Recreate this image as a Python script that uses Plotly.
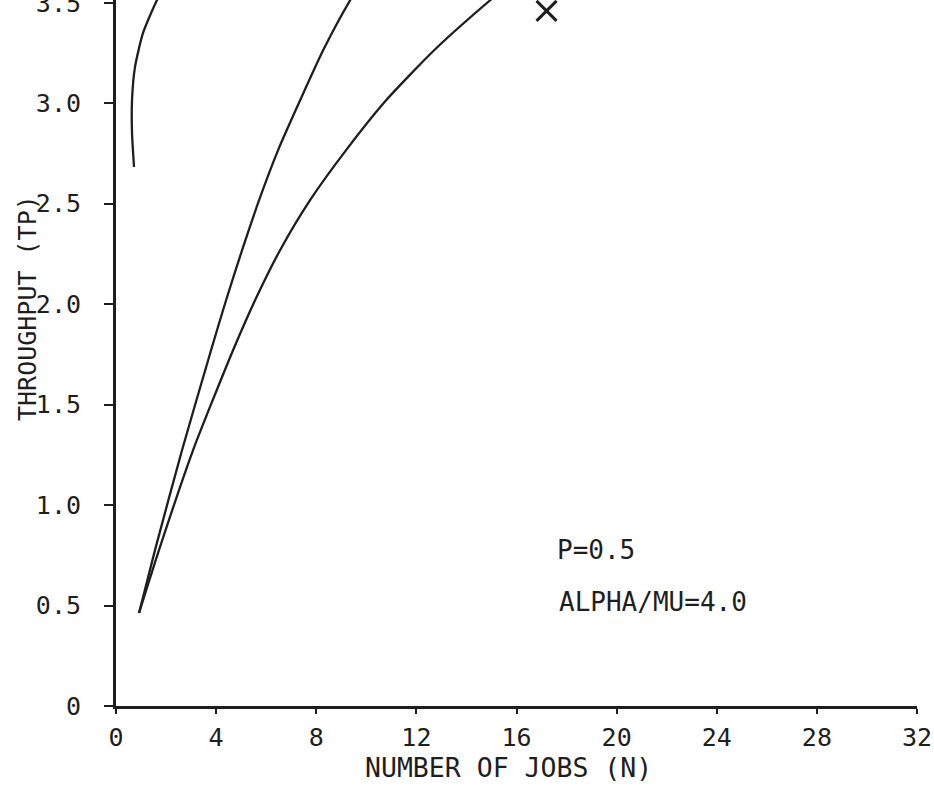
import plotly.graph_objects as go

# ---- data ----
curve_a_n = [0.72, 0.64, 0.64, 0.76, 1.08, 1.64, 2.05]
curve_a_tp = [2.683, 2.852, 3.016, 3.181, 3.350, 3.514, 3.60]

curve_b_n = [0.92, 1.56, 2.64, 3.80, 4.40, 5.04, 5.72, 6.48, 7.36, 8.28, 9.36, 9.80]
curve_b_tp = [0.463, 0.777, 1.274, 1.772, 2.021, 2.270, 2.519, 2.768, 3.016, 3.265, 3.514, 3.60]

curve_c_n = [0.92, 1.72, 3.08, 4.68, 5.56, 6.56, 7.76, 9.20, 10.80, 12.72, 14.96, 16.00]
curve_c_tp = [0.463, 0.777, 1.274, 1.772, 2.021, 2.270, 2.519, 2.768, 3.016, 3.265, 3.514, 3.62]

mark_n = [17.2]
mark_tp = [3.46]

x_ticks = [0, 4, 8, 12, 16, 20, 24, 28, 32]
y_ticks = [0, 0.5, 1.0, 1.5, 2.0, 2.5, 3.0, 3.5]
y_tick_text = ["0", "0.5", "1.0", "1.5", "2.0", "2.5", "3.0", "3.5"]

INK = "#1e1e1e"
FONT = "DejaVu Sans Mono"

fig = go.Figure()
for xs, ys in [(curve_a_n, curve_a_tp), (curve_b_n, curve_b_tp), (curve_c_n, curve_c_tp)]:
    fig.add_trace(go.Scatter(x=xs, y=ys, mode="lines",
                             line=dict(color=INK, width=2.3, shape="spline", smoothing=0.6),
                             showlegend=False, hoverinfo="skip"))
fig.add_trace(go.Scatter(x=mark_n, y=mark_tp, mode="markers",
                         marker=dict(symbol="x-thin", size=20, line=dict(color=INK, width=3)),
                         showlegend=False, cliponaxis=False))

fig.update_layout(
    width=934, height=791,
    margin=dict(l=116, r=17, t=0, b=85, autoexpand=False),
    paper_bgcolor="white", plot_bgcolor="white",
    font=dict(family=FONT, size=25, color=INK),
    xaxis=dict(range=[0, 32], tickvals=x_ticks, showgrid=False, zeroline=False,
               showline=True, linewidth=3, linecolor=INK, automargin=False,
               ticks="outside", ticklen=5, tickwidth=2, tickcolor=INK,
               ticklabelstandoff=2,
               tickfont=dict(family=FONT, size=25, color=INK)),
    yaxis=dict(range=[0, 3.514], tickvals=y_ticks, ticktext=y_tick_text,
               showgrid=False, zeroline=False, automargin=False,
               showline=True, linewidth=3, linecolor=INK,
               ticks="outside", ticklen=9, tickwidth=2, tickcolor=INK,
               ticklabelstandoff=18, ticklabeloverflow="allow",
               tickfont=dict(family=FONT, size=25, color=INK)),
    annotations=[
        dict(text="NUMBER OF JOBS (N)", xref="paper", yref="paper",
             x=(508 - 116) / 801, y=(706 - 767) / 706, xanchor="center", yanchor="middle",
             showarrow=False, font=dict(family=FONT, size=26.5, color=INK)),
        dict(text="THROUGHPUT (TP)", xref="paper", yref="paper", textangle=-90,
             x=(27 - 116) / 801, y=(706 - 308) / 706, xanchor="center", yanchor="middle",
             showarrow=False, font=dict(family=FONT, size=25, color=INK)),
        dict(text="P=0.5", xref="paper", yref="paper",
             x=(555 - 116) / 801, y=(706 - 550) / 706, xanchor="left", yanchor="middle",
             showarrow=False, font=dict(family=FONT, size=26, color=INK)),
        dict(text="ALPHA/MU=4.0", xref="paper", yref="paper",
             x=(557 - 116) / 801, y=(706 - 602) / 706, xanchor="left", yanchor="middle",
             showarrow=False, font=dict(family=FONT, size=26, color=INK)),
    ],
)

fig.write_html("out.html")
